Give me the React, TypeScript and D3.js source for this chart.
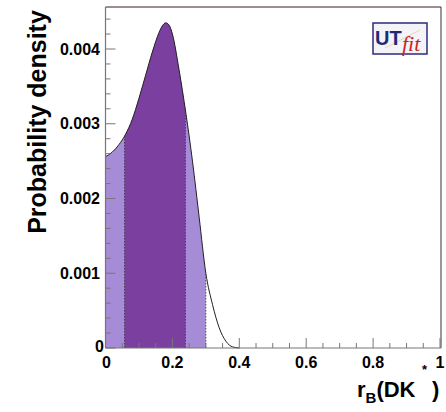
import React from "react";
import * as d3 from "d3";

const rB = [0, 0.02, 0.04, 0.06, 0.08, 0.1, 0.12, 0.14, 0.16, 0.17, 0.18, 0.19, 0.2, 0.22, 0.24, 0.26, 0.28, 0.3, 0.32, 0.34, 0.36, 0.38, 0.4];
const density = [0.00256, 0.00262, 0.00272, 0.00286, 0.00306, 0.00334, 0.00365, 0.00396, 0.00422, 0.00431, 0.00435, 0.00432, 0.0042, 0.00372, 0.00315, 0.0025, 0.00175, 0.001, 0.00058, 0.00027, 0.00009, 0.000015, 0];
const band95 = [0, 0.3];
const band68 = [0.057, 0.239];
const xTicks = [0, 0.2, 0.4, 0.6, 0.8, 1];
const xTickLabels = ["0", "0.2", "0.4", "0.6", "0.8", "1"];
const yTicks = [0, 0.001, 0.002, 0.003, 0.004];
const yTickLabels = ["0", "0.001", "0.002", "0.003", "0.004"];

const L = 105.5, R = 441, T = 7, B = 348;

export default function App() {
  const x = d3.scaleLinear().domain([0, 1]).range([L, R - 1]);
  const y = d3.scaleLinear().domain([0, 0.004562]).range([B, T]);
  const pts = rB.map((v, i) => [v, density[i]] as [number, number]);
  const area = d3.area<[number, number]>().x(d => x(d[0])).y0(B).y1(d => y(d[1])).curve(d3.curveMonotoneX)(pts) || "";
  const line = d3.line<[number, number]>().x(d => x(d[0])).y(d => y(d[1])).curve(d3.curveMonotoneX)(pts) || "";
  const xMinor = d3.range(0, 1.0001, 0.05);
  const yMinor = d3.range(0, 0.00456, 0.0002);
  const font = "'Liberation Sans', Arial, Helvetica, sans-serif";
  return (
    <div style={{ position: "absolute", left: 0, top: 0 }}>
      <svg width={446} height={412} style={{ display: "block", background: "#fff" }} fontFamily={font}>
        <defs>
          <clipPath id="c95"><rect x={x(band95[0])} y={0} width={x(band95[1]) - x(band95[0])} height={412} /></clipPath>
          <clipPath id="c68"><rect x={x(band68[0])} y={0} width={x(band68[1]) - x(band68[0])} height={412} /></clipPath>
          <clipPath id="cArea"><path d={area} /></clipPath>
        </defs>
        <path d={area} fill="#a68bd6" clipPath="url(#c95)" />
        <path d={area} fill="#7b3f9f" clipPath="url(#c68)" />
        <g clipPath="url(#cArea)" stroke="#333" strokeWidth={0.8} strokeDasharray="1.5,1.5">
          {[band68[0], band68[1], band95[1]].map((v, i) => (
            <line key={i} x1={x(v)} x2={x(v)} y1={T} y2={B} />
          ))}
        </g>
        <path d={line} fill="none" stroke="#222" strokeWidth={1} />
        <line x1={L} x2={R} y1={T} y2={T} stroke="#3a1e1e" strokeWidth={1} />
        <line x1={R} x2={R} y1={T} y2={B} stroke="#333" strokeWidth={1} />
        <line x1={L} x2={L} y1={T} y2={B} stroke="#777" strokeWidth={1.2} />
        <line x1={L} x2={R} y1={B} y2={B} stroke="#777" strokeWidth={1.2} />
        {xMinor.map((v, i) => {
          const major = i % 4 === 0;
          return <line key={"xm" + i} x1={x(v)} x2={x(v)} y1={B} y2={B - (major ? 10 : 5)} stroke="#777" strokeWidth={1} />;
        })}
        {yMinor.map((v, i) => {
          const major = i % 5 === 0;
          return <line key={"ym" + i} x1={L} x2={L + (major ? 10 : 5)} y1={y(v)} y2={y(v)} stroke="#777" strokeWidth={1} />;
        })}
        {xTicks.map((v, i) => (
          <text key={"xt" + i} x={x(v) + (i === 0 ? 1 : 0)} y={368} textAnchor="middle" fontSize={16} fontWeight="bold" fill="#000">{xTickLabels[i]}</text>
        ))}
        {yTicks.map((v, i) => (
          <text key={"yt" + i} x={i === 0 ? 104 : 100} y={y(v) + 5.5 - (i === 0 ? 2 : 0)} textAnchor="end" fontSize={16} fontWeight="bold" fill="#000">{yTickLabels[i]}</text>
        ))}
        <text transform="translate(46,122) rotate(-90)" textAnchor="middle" fontSize={25} fontWeight="bold" fill="#000">Probability density</text>
        <text x={357} y={397} fontSize={22} fontWeight="bold" fill="#000">
          r<tspan fontSize={15} dy={6}>B</tspan><tspan dy={-6}>(DK</tspan>
        </text>
        <text x={422} y={374} fontSize={13} fontWeight="bold" fill="#000">*</text>
        <text x={432} y={397} fontSize={22} fontWeight="bold" fill="#000">)</text>
        <g>
          <rect x={373} y={23} width={54} height={31} fill="#f3f3f8" stroke="#2b2b7b" strokeWidth={1.5} />
          <line x1={385} x2={420} y1={48} y2={30} stroke="#e3d9b0" strokeWidth={1} />
          <text x={375} y={45} fontSize={20} fontWeight="bold" fill="#1e2a78">UT</text>
          <text x={402} y={51} fontSize={22} fontStyle="italic" fontFamily="'Liberation Serif', 'DejaVu Serif', serif" fill="#cc1f22">fit</text>
        </g>
      </svg>
    </div>
  );
}
